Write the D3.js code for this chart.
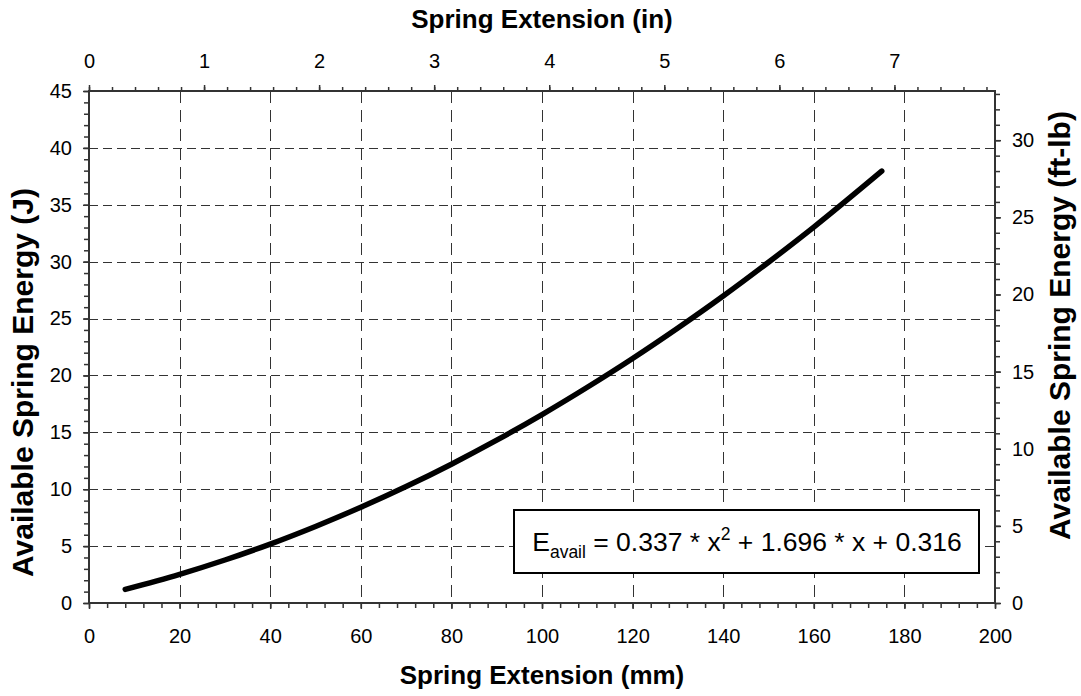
<!DOCTYPE html>
<html>
<head>
<meta charset="utf-8">
<script src="https://cdn.jsdelivr.net/npm/d3@7"></script>
<style>
  html, body { margin: 0; padding: 0; background: #fff; }
  svg { display: block; font-family: "Liberation Sans", Arial, sans-serif; }
</style>
</head>
<body>
<svg id="chart" width="1081" height="696"></svg>
<script>
// ---- data ----
const extensionMM = [8, 20, 30, 40, 50, 60, 70, 80, 90, 100, 110, 120, 130, 140, 150, 160, 175];
const energyJ     = [1.2, 2.52, 3.78, 5.18, 6.73, 8.41, 10.23, 12.2, 14.31, 16.56, 18.96, 21.49, 24.17, 26.98, 29.95, 33.04, 37.96];

const bottomTicks = [0, 20, 40, 60, 80, 100, 120, 140, 160, 180, 200];
const leftTicks   = [0, 5, 10, 15, 20, 25, 30, 35, 40, 45];
const topTicks    = [0, 1, 2, 3, 4, 5, 6, 7];
const rightTicks  = [0, 5, 10, 15, 20, 25, 30];

const xTitleBottom = "Spring Extension (mm)";
const xTitleTop    = "Spring Extension (in)";
const yTitleLeft   = "Available Spring Energy (J)";
const yTitleRight  = "Available Spring Energy (ft-lb)";

const MM_PER_IN = 25.4;
const J_PER_FTLB = 1.35582;

// ---- layout ----
const svg = d3.select("#chart");
const L = 89, R = 995, T = 91, B = 603;
const axisColor = "#333";

const x = d3.scaleLinear().domain([0, 200]).range([L, R]);
const y = d3.scaleLinear().domain([0, 45]).range([B, T]);
const xin = d3.scaleLinear().domain([0, 200 / MM_PER_IN]).range([L, R]);
const yft = d3.scaleLinear().domain([0, 45 / J_PER_FTLB]).range([B, T]);

// ---- grid ----
const grid = svg.append("g").attr("stroke", "#333").attr("stroke-width", 1).attr("fill", "none");
grid.selectAll("line.v").data(bottomTicks.filter(d => d > 0 && d < 200)).enter().append("line")
  .attr("x1", d => Math.round(x(d)) + 0.5).attr("x2", d => Math.round(x(d)) + 0.5)
  .attr("y1", T).attr("y2", B).attr("stroke-dasharray", "12,7");
grid.selectAll("line.h").data(leftTicks.filter(d => d > 0 && d < 45)).enter().append("line")
  .attr("y1", d => Math.round(y(d)) + 0.5).attr("y2", d => Math.round(y(d)) + 0.5)
  .attr("x1", L).attr("x2", R).attr("stroke-dasharray", "9,5");

// ---- axes ----
function styleAxis(g) {
  g.select(".domain").remove();
  g.selectAll(".tick line").attr("stroke", axisColor).attr("stroke-width", 1.5);
  g.selectAll(".tick text").attr("fill", "#000").style("font-size", "20px")
    .style("font-family", "'Liberation Sans', Arial, sans-serif");
}
// minor ticks
const minorBottom = d3.range(0, 200.001, 4);
const minorLeft = d3.range(0, 45.001, 1);
const minorTop = d3.range(0, 200 / MM_PER_IN, 0.2);
const minorRight = d3.range(0, 45 / J_PER_FTLB, 1);

svg.append("g").attr("transform", `translate(0,${B})`)
  .call(d3.axisBottom(x).tickValues(minorBottom).tickSize(5).tickFormat(""))
  .call(styleAxis);
svg.append("g").attr("transform", `translate(0,${B})`)
  .call(d3.axisBottom(x).tickValues(bottomTicks).tickSize(6).tickPadding(20).tickFormat(d3.format("d")))
  .call(styleAxis);

svg.append("g").attr("transform", `translate(${L},0)`)
  .call(d3.axisLeft(y).tickValues(minorLeft).tickSize(5).tickFormat(""))
  .call(styleAxis);
svg.append("g").attr("transform", `translate(${L},0)`)
  .call(d3.axisLeft(y).tickValues(leftTicks).tickSize(6).tickPadding(11).tickFormat(d3.format("d")))
  .call(styleAxis);

svg.append("g").attr("transform", `translate(0,${T})`)
  .call(d3.axisTop(xin).tickValues(minorTop).tickSize(4).tickFormat(""))
  .call(styleAxis);
svg.append("g").attr("transform", `translate(0,${T})`)
  .call(d3.axisTop(xin).tickValues(topTicks).tickSize(6).tickPadding(17).tickFormat(d3.format("d")))
  .call(styleAxis);

svg.append("g").attr("transform", `translate(${R},0)`)
  .call(d3.axisRight(yft).tickValues(minorRight).tickSize(5).tickFormat(""))
  .call(styleAxis);
svg.append("g").attr("transform", `translate(${R},0)`)
  .call(d3.axisRight(yft).tickValues(rightTicks).tickSize(6).tickPadding(11).tickFormat(d3.format("d")))
  .call(styleAxis);

// frame
svg.append("rect").attr("x", L).attr("y", T).attr("width", R - L).attr("height", B - T)
  .attr("fill", "none").attr("stroke", axisColor).attr("stroke-width", 2);

// ---- curve ----
const pts = extensionMM.map((d, i) => [d, energyJ[i]]);
svg.append("path").datum(pts)
  .attr("fill", "none").attr("stroke", "#000").attr("stroke-width", 5.5)
  .attr("stroke-linecap", "round").attr("stroke-linejoin", "round")
  .attr("d", d3.line().x(d => x(d[0])).y(d => y(d[1])).curve(d3.curveMonotoneX));

// ---- equation box ----
const box = svg.append("g");
box.append("rect").attr("x", 514).attr("y", 510).attr("width", 465).attr("height", 63)
  .attr("fill", "#fff").attr("stroke", "#000").attr("stroke-width", 2);
const eq = box.append("text").attr("x", 747).attr("y", 551).attr("text-anchor", "middle")
  .style("font-size", "26.5px").attr("fill", "#000");
eq.append("tspan").text("E");
eq.append("tspan").attr("dy", 7).style("font-size", "17.5px").text("avail");
eq.append("tspan").attr("dy", -7).text(" = 0.337 * x");
eq.append("tspan").attr("dy", -11).style("font-size", "17.5px").text("2");
eq.append("tspan").attr("dy", 11).text(" + 1.696 * x + 0.316");

// ---- titles ----
const titleStyle = (t, size) => t.style("font-size", size + "px").style("font-weight", "bold").attr("fill", "#000");
svg.append("text").attr("x", (L + R) / 2).attr("y", 684).attr("text-anchor", "middle")
  .text(xTitleBottom).call(titleStyle, 26);
svg.append("text").attr("x", (L + R) / 2).attr("y", 28).attr("text-anchor", "middle")
  .text(xTitleTop).call(titleStyle, 26);
svg.append("text").attr("transform", `translate(33,577) rotate(-90)`).attr("text-anchor", "start")
  .text(yTitleLeft).call(titleStyle, 30);
svg.append("text").attr("transform", `translate(1070,540) rotate(-90)`).attr("text-anchor", "start")
  .text(yTitleRight).call(titleStyle, 30);
</script>
</body>
</html>
